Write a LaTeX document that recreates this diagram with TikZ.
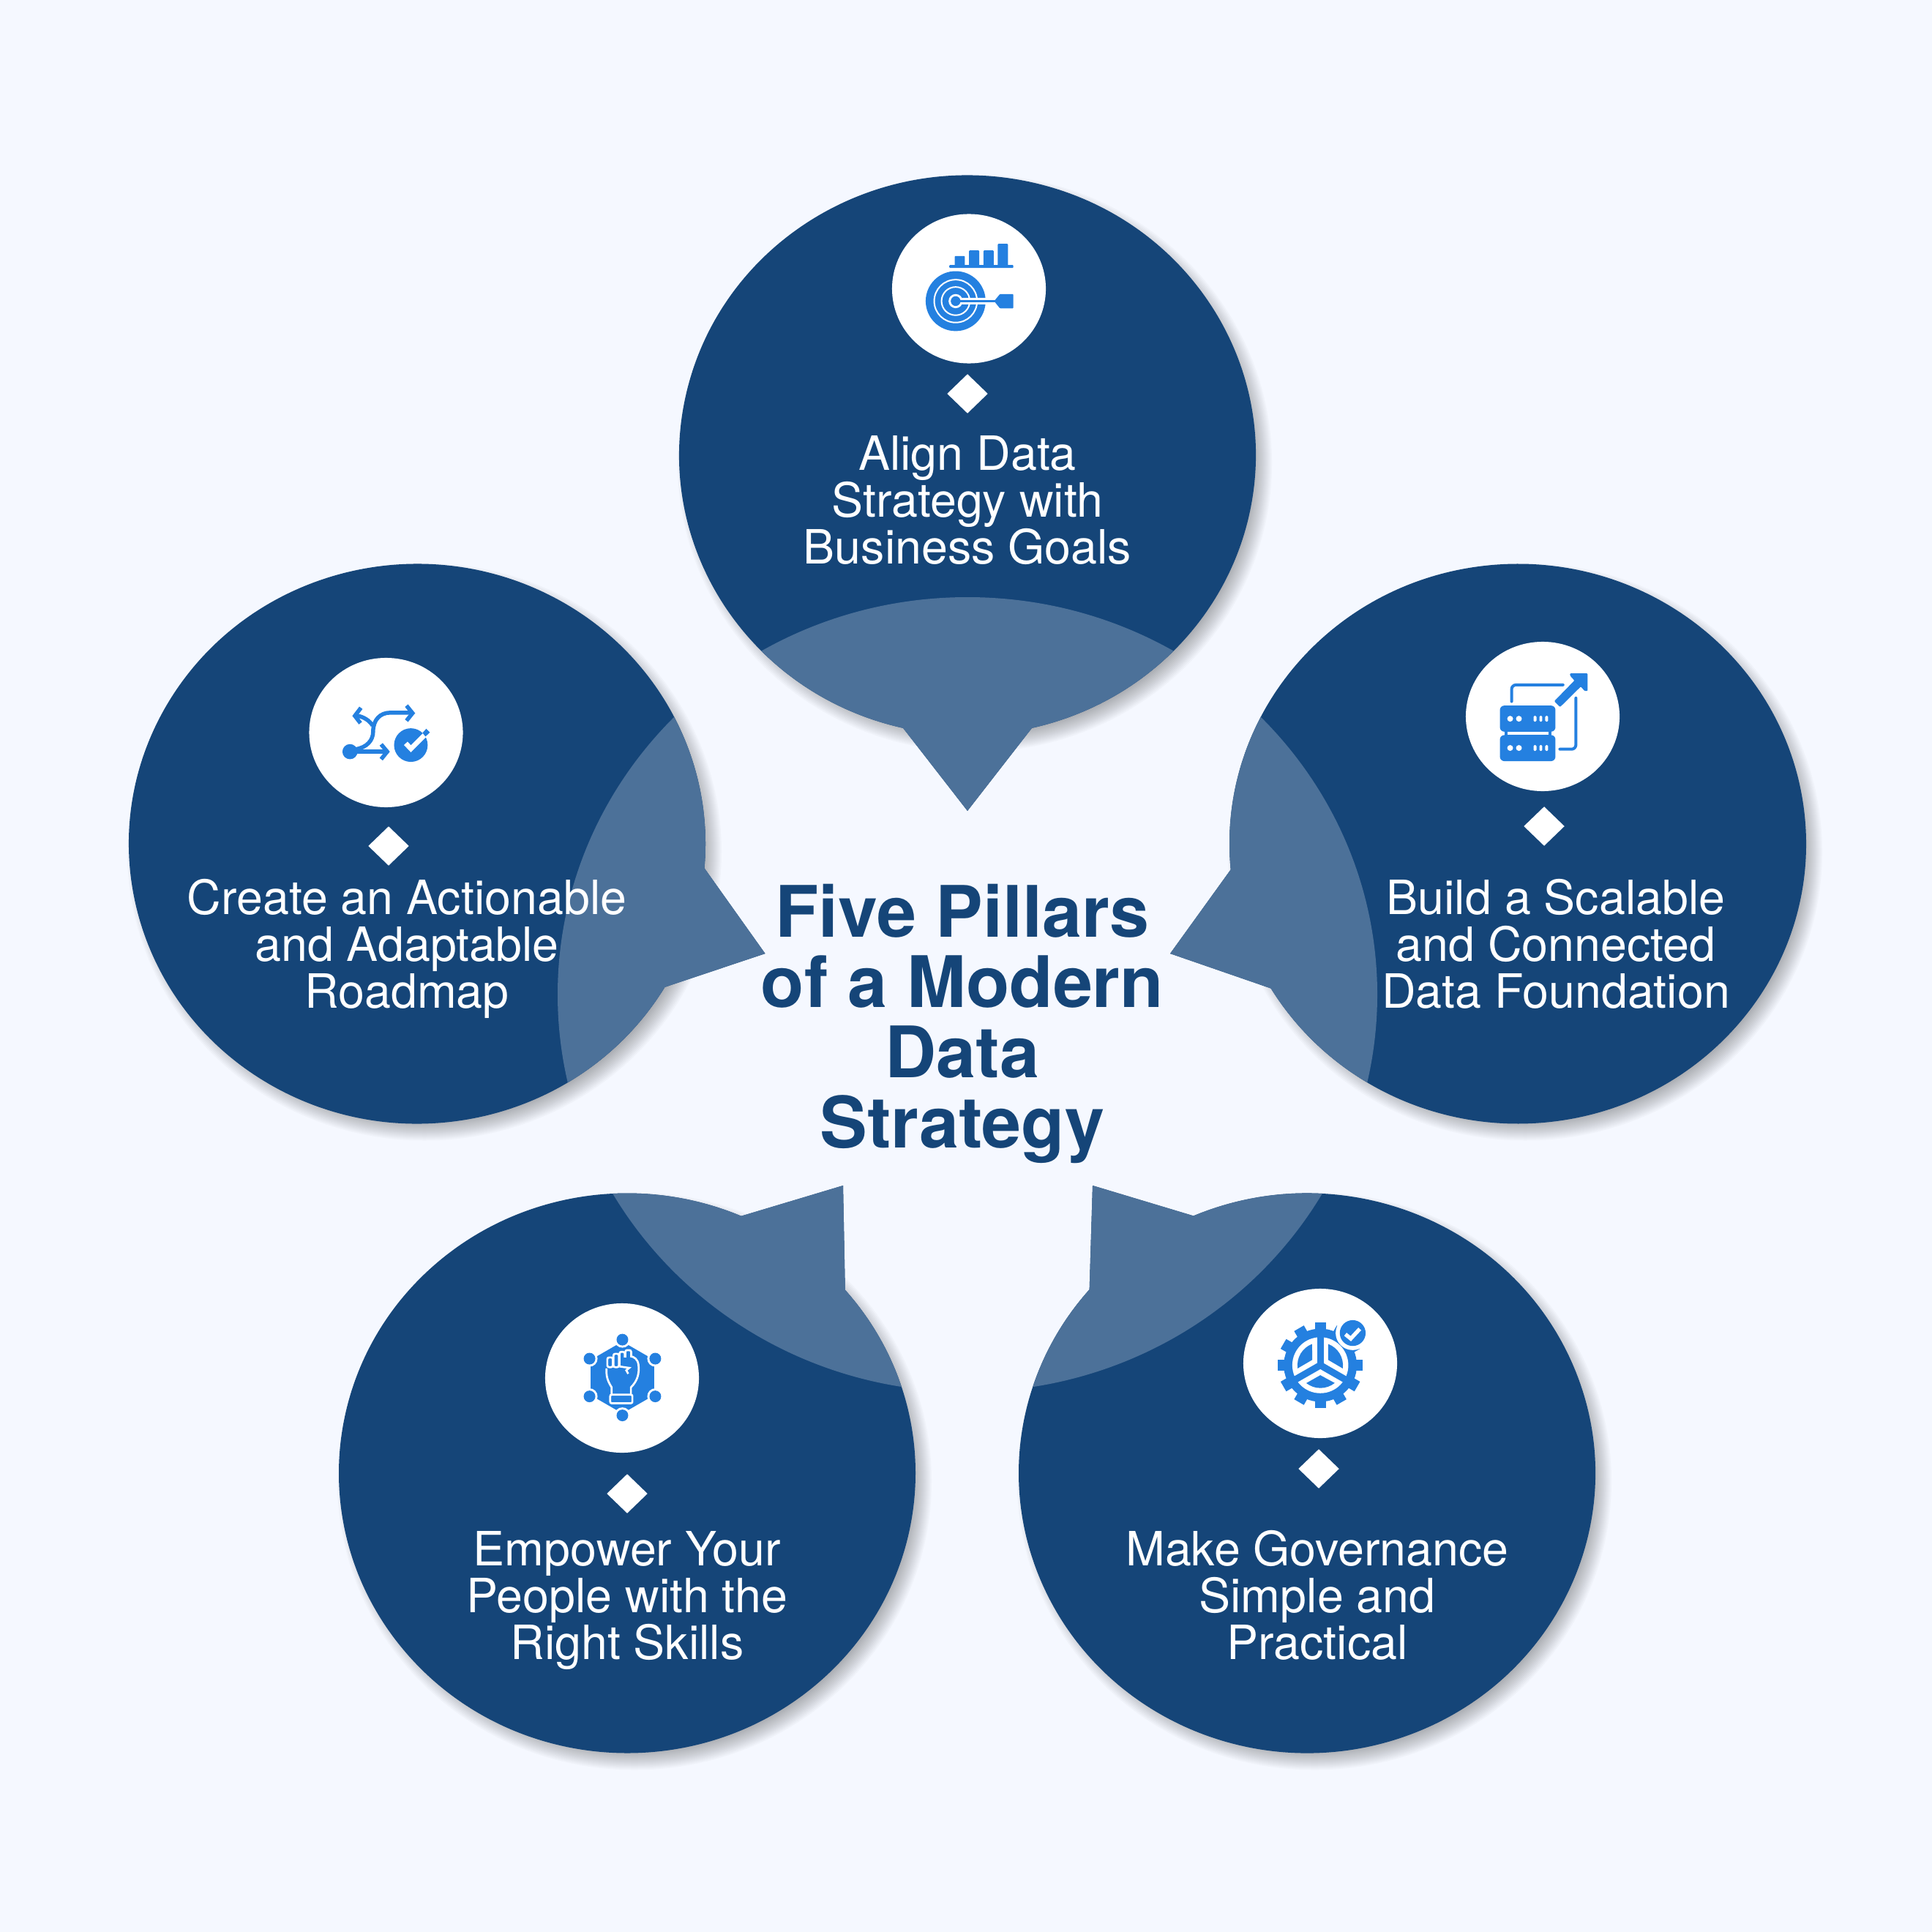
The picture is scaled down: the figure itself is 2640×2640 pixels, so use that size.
\documentclass[tikz,border=0pt]{standalone}
\usepackage{fontspec}
\setmainfont{TeX Gyre Heros}
\usetikzlibrary{shapes.geometric}
\definecolor{paper}{HTML}{F5F8FF}
\definecolor{navy}{HTML}{154578}
\definecolor{pale}{HTML}{4C7199}
\definecolor{iconblue}{HTML}{2480E0}
\tikzstyle{spot} = [draw=none,fill=white,ellipse,inner sep=0,minimum width=2.1cm,minimum height=2.04cm]
\tikzstyle{gem} = [draw=none,fill=white,diamond,inner sep=0,minimum width=.56cm,minimum height=.54cm]
\tikzstyle{pillar} = [text=white,align=center,inner sep=0,font=\fontsize{18.35}{18.2}\selectfont]
\tikzstyle{heading} = [text=navy,align=center,inner sep=0,font=\fontsize{27.6}{27.3}\selectfont\bfseries]
\tikzstyle{icon} = [x=.0033333cm,y=-.0033333cm]

\begin{document}
\begin{tikzpicture}[x=.01cm,y=-.01cm]

\useasboundingbox (0,0) rectangle (2640,2640);
\fill[paper] (0,0) rectangle (2640,2640);

\foreach \cx/\cy in {1322/622, 570/1153, 2074/1153, 857/2013, 1786/2013}
  \foreach \g in {-16,-14,...,12}
    \fill[black,opacity=.024] (\cx+10,\cy+11) ellipse [x radius=394+\g,y radius=382.5+\g];

\foreach \cx/\cy/\t/\tx/\ty in {1322/622/102.9/1322/1108, 570/1153/30.8/1045.5/1303, 2074/1153/174.7/1599/1303, 857/2013/319.1/1152/1620, 1786/2013/246.8/1493/1620}
{
  \fill[navy] ({\cx+394*cos(\t)},{\cy+382.5*sin(\t)}) arc [start angle=\t,delta angle=334.2,x radius=394,y radius=382.5] -- (\tx,\ty) -- cycle;
  \begin{scope}
    \clip ({\cx+394*cos(\t)},{\cy+382.5*sin(\t)}) arc [start angle=\t,delta angle=334.2,x radius=394,y radius=382.5] -- (\tx,\ty) -- cycle;
    \fill[pale] (1322,1359) ellipse [x radius=560,y radius=543];
  \end{scope}
}

\node[spot] (goalspot) at (1324,394.5) {};
\node[spot] (datspot) at (2108,979) {};
\node[spot] (mapspot) at (527.5,1001) {};
\node[spot] (skillspot) at (850,1883) {};
\node[spot] (govspot) at (1804,1863) {};

\node[gem] (goalgem) at (1322,538) {};
\node[gem] (datgem) at (2110,1129) {};
\node[gem] (mapgem) at (531,1156) {};
\node[gem] (skillgem) at (857,2041) {};
\node[gem] (govgem) at (1802,2007) {};

\node[pillar] (goal) at (1322,684) {Align Data\\Strategy with\\Business Goals};
\node[pillar] (dat) at (2126,1290) {Build a Scalable\\and Connected\\Data Foundation};
\node[pillar] (map) at (556,1296) {Create an Actionable\\and Adaptable\\Roadmap};
\node[pillar] (skill) at (857,2187) {Empower Your\\People with the\\Right Skills};
\node[pillar] (gov) at (1800,2180) {Make Governance\\Simple and\\Practical};

\node[heading] (title) at (1315,1399) {Five Pillars\\of a Modern\\Data\\Strategy};

\begin{scope}[shift={(1200,280)},icon,iconblue]
  \fill[rounded corners=.01cm] (292,247) rectangle (555,259);
  \fill[rounded corners=.01cm] (314,250) |- (356,210) -- (356,250) -- cycle;
  \fill[rounded corners=.01cm] (373,250) |- (415,187) -- (415,250) -- cycle;
  \fill[rounded corners=.01cm] (432,250) |- (474,187) -- (474,250) -- cycle;
  \fill[rounded corners=.01cm] (491,250) |- (533,160) -- (533,250) -- cycle;
  \fill (318,395) circle [radius=123];
  \draw[white,line width=.02cm] (318,395) circle [radius=88];
  \draw[white,line width=.02cm] (318,395) circle [radius=58];
  \draw[white,line width=.02cm] (318,395) circle [radius=26];
  \fill[white] (335,382) rectangle (442,408);
  \fill[white] (318,395) circle [radius=26];
  \fill (318,395) circle [radius=20];
  \draw[line width=.035cm] (335,395) -- (490,395);
  \fill[rounded corners=.01cm] (476,395) -- (500,366) -- (555,366) -- (555,425) -- (500,425) -- cycle;
\end{scope}

\begin{scope}[shift={(1980,860)},icon,iconblue]
  \fill[rounded corners=.06cm] (209,313) rectangle (437,420);
  \fill[rounded corners=.06cm] (209,434) rectangle (437,541);
  \fill (227,410) rectangle (420,444);
  \fill[white] (240,421) rectangle (408,433);
  \foreach \y in {367,487}
  {
    \fill[white] (251,\y) circle [radius=12];
    \fill[white] (287,\y) circle [radius=12];
    \foreach \x in {353,377,401}
      \fill[white,rounded corners=.015cm] (\x-6,\y-12) rectangle (\x+6,\y+12);
  }
  \draw[line width=.04cm,line cap=round,rounded corners=.06cm] (257,296) |- (468,228);
  \draw[line width=.04cm,line cap=round,rounded corners=.06cm] (521,282) |- (455,492);
  \fill[rounded corners=.01cm] (497,181) -- (569,181) -- (569,253) -- (557,253) -- (541,235) -- (456,319) -- (432,295) -- (515,210) -- (497,190) -- cycle;
\end{scope}

\begin{scope}[shift={(410,880)},icon,iconblue]
  \fill (205,442) circle [radius=31];
  \draw[line width=.055cm] (215,442) -- (355,442);
  \draw[line width=.055cm] (333,412) -- (358,442) -- (333,473);
  \draw[line width=.055cm] (228,432) .. controls (275,425) and (300,395) .. (300,360) .. controls (300,310) and (330,282) .. (370,282) -- (460,282);
  \draw[line width=.055cm] (437,253) -- (462,284) -- (437,315);
  \draw[line width=.055cm] (298,335) .. controls (285,315) and (265,300) .. (230,293);
  \draw[line width=.055cm] (250,262) -- (225,295) -- (248,325);
  \fill (455,415) circle [radius=69];
  \draw[white,line width=.067cm] (434,408) -- (455,430) -- (512,373);
  \fill (518,348) -- (533,363) -- (515,380) -- (503,365) -- cycle;
\end{scope}

\begin{scope}[shift={(730,1770)},icon,iconblue]
  \fill (362,190) -- (492,265) -- (492,410) -- (362,485) -- (232,410) -- (232,265) -- cycle;
  \foreach \x/\y in {362/182, 497/260, 497/415, 362/493, 227/415, 227/260}
  {
    \fill[white] (\x,\y) circle [radius=33];
    \fill (\x,\y) circle [radius=24];
  }
  \draw[white,line width=.027cm,rounded corners=.02cm] (312,408) rectangle (403,443);
  \draw[white,line width=.027cm] (318,408) -- (318,378) .. controls (300,350) and (295,330) .. (297,300);
  \draw[white,line width=.027cm] (397,408) -- (397,378) .. controls (425,350) and (432,320) .. (428,285) .. controls (425,262) and (410,252) .. (395,250);
  \draw[white,line width=.027cm,rounded corners=.025cm] (300,295) rectangle (323,255);
  \draw[white,line width=.027cm,rounded corners=.025cm] (325,295) rectangle (348,240);
  \draw[white,line width=.027cm,rounded corners=.025cm] (350,290) -- (350,232) -- (372,232) -- (372,255);
  \draw[white,line width=.027cm,rounded corners=.025cm] (374,255) -- (374,225) -- (398,225) -- (398,252);
  \draw[white,line width=.027cm] (350,292) -- (390,298) -- (378,308) -- (386,322);
\end{scope}

\begin{scope}[shift={(1680,1750)},icon,iconblue]
  \fill (373,347) circle [radius=150];
  \foreach \a in {0,30,...,330}
    \draw[line width=.153cm] (373,347) ++(\a:130) -- ++(\a:45);
  \fill[white] (373,347) circle [radius=115];
  \draw[line width=.093cm] (373,347) -- (373,230);
  \draw[line width=.093cm] (373,347) -- (272,405);
  \draw[line width=.093cm] (373,347) -- (474,405);
  \fill (280,360) arc [start angle=172,end angle=249.2,radius=93] -- (340,325) -- cycle;
  \fill (405,260) arc [start angle=-69.8,end angle=8,radius=93] -- (405,325) -- cycle;
  \fill (432,420) arc [start angle=51,end angle=128.5,radius=93] -- (373,388) -- cycle;
  \fill[white] (506,215) circle [radius=70];
  \fill (506,215) circle [radius=53];
  \draw[white,line width=.053cm] (476,220) -- (498,238) -- (535,198);
\end{scope}

\end{tikzpicture}
\end{document}
